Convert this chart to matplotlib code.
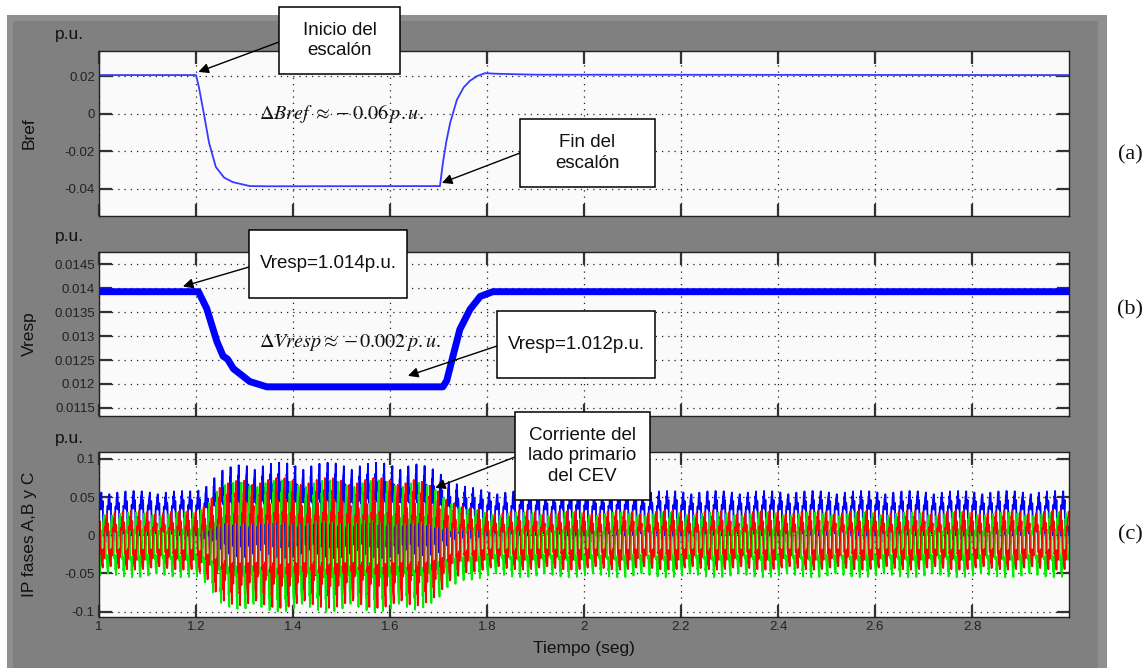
import numpy as np
import matplotlib
matplotlib.use('Agg')
import matplotlib.pyplot as plt
from matplotlib.patches import Rectangle

plt.rcParams['font.family'] = ['Liberation Sans', 'DejaVu Sans']
plt.rcParams['mathtext.fontset'] = 'stix'

W, H = 1148, 668

# --- (a) Bref, p.u. ---
bref_t = [1.0, 1.2, 1.206, 1.216, 1.227, 1.241, 1.258, 1.276, 1.311, 1.35,
          1.703, 1.709, 1.716, 1.724, 1.738, 1.752, 1.765, 1.78, 1.796,
          1.82, 1.9, 3.0]
bref_v = [0.0205, 0.0205, 0.0141, 0.0003, -0.0156, -0.0284, -0.0340,
          -0.0364, -0.0385, -0.0386, -0.0385, -0.0262, -0.0150, -0.0049,
          0.0074, 0.0140, 0.0175, 0.0200, 0.0215, 0.0212, 0.0207, 0.0205]

# --- (b) Vresp, p.u. ---
vresp_t = [1.0, 1.205, 1.222, 1.243, 1.256, 1.265, 1.277, 1.311, 1.346,
           1.709, 1.717, 1.728, 1.744, 1.765, 1.786, 1.812, 3.0]
vresp_v = [0.01393, 0.01393, 0.01358, 0.01289, 0.01258, 0.01252, 0.01232,
           0.01205, 0.01194, 0.01194, 0.01207, 0.01251, 0.01314, 0.01356,
           0.01383, 0.01393, 0.01393]

# --- (c) primary currents: upper / lower envelope of each phase ---
cur_t = [1.0, 1.2, 1.25, 1.3, 1.65, 1.7, 1.75, 1.8, 3.0]
ia_hi = [0.058, 0.058, 0.085, 0.095, 0.095, 0.085, 0.065, 0.058, 0.058]
ia_lo = [-0.012, -0.012, -0.045, -0.055, -0.055, -0.045, -0.02, -0.012, -0.012]
ib_hi = [0.032, 0.032, 0.065, 0.075, 0.075, 0.06, 0.038, 0.032, 0.032]
ib_lo = [-0.045, -0.045, -0.085, -0.095, -0.095, -0.08, -0.05, -0.045, -0.045]
ic_hi = [0.03, 0.03, 0.065, 0.072, 0.072, 0.06, 0.036, 0.03, 0.03]
ic_lo = [-0.055, -0.055, -0.09, -0.1, -0.1, -0.085, -0.06, -0.055, -0.055]
f_sys = 60.0

xticks = [1, 1.2, 1.4, 1.6, 1.8, 2, 2.2, 2.4, 2.6, 2.8]
yt_a = [0.02, 0, -0.02, -0.04]
yt_b = [0.0145, 0.014, 0.0135, 0.013, 0.0125, 0.012, 0.0115]
yt_c = [0.1, 0.05, 0, -0.05, -0.1]

fig = plt.figure(figsize=(W / 100, H / 100), dpi=100)
fig.patch.set_facecolor('white')

# grey simulink-like frame
fig.add_artist(Rectangle((7 / W, 0), 1100 / W, 653 / H, transform=fig.transFigure,
                         facecolor='#8f8f8f', edgecolor='none', zorder=-10))
fig.add_artist(Rectangle((13 / W, 0), 1085 / W, 647 / H, transform=fig.transFigure,
                         facecolor='#808080', edgecolor='none', zorder=-9))


def px_axes(x0, y0, x1, y1):
    return fig.add_axes([x0 / W, 1 - y1 / H, (x1 - x0) / W, (y1 - y0) / H])


ax1 = px_axes(99, 51, 1069, 216)
ax2 = px_axes(99, 252, 1069, 416)
ax3 = px_axes(99, 452, 1069, 617)


def style(ax, yt, ylabels, ylim, label, show_x=False):
    ax.set_facecolor('#fafafa')
    ax.set_xlim(1, 3)
    ax.set_ylim(*ylim)
    ax.set_xticks(xticks)
    ax.set_yticks(yt)
    ax.set_yticklabels(ylabels)
    if show_x:
        ax.set_xticklabels([f'{x:g}' for x in xticks])
    else:
        ax.set_xticklabels([])
    ax.tick_params(direction='in', length=9, width=1.6, color='#333333',
                   top=True, right=True, labelsize=9.5, labelcolor='#222222',
                   pad=3)
    ax.grid(True, color='#222222', linestyle=(0, (1, 4)), linewidth=0.9)
    for s in ax.spines.values():
        s.set_color('#222222')
        s.set_linewidth(1.0)
    ax.set_ylabel(label, fontsize=12.5, color='#111111')
    ax.yaxis.set_label_coords(-0.064, 0.5)


style(ax1, yt_a, ['0.02', '0', '-0.02', '-0.04'], (-0.0544, 0.0333), 'Bref')
style(ax2, yt_b, ['0.0145', '0.014', '0.0135', '0.013', '0.0125', '0.012', '0.0115'],
      (0.01133, 0.01476), 'Vresp')
style(ax3, yt_c, ['0.1', '0.05', '0', '-0.05', '-0.1'], (-0.107, 0.109),
      'IP fases A,B y C', show_x=True)
ax3.set_xlabel('Tiempo (seg)', fontsize=12.5, color='#111111', labelpad=6)

ax1.plot(bref_t, bref_v, color='#3a3aff', lw=1.3)
ax2.plot(vresp_t, vresp_v, color='#0000ff', lw=5.0, solid_joinstyle='round')

# currents: 60 Hz carrier scaled between the read envelopes
t = np.arange(1.0, 3.0, 1 / 1430)
th = 2 * np.pi * f_sys * t
for hi, lo, ph, col in [(ia_hi, ia_lo, 0.0, '#0000ff'),
                        (ic_hi, ic_lo, 2 * np.pi / 3, '#00ee00'),
                        (ib_hi, ib_lo, -2 * np.pi / 3, '#ff0000')]:
    a = th - ph
    shape = (np.sin(a) + 0.3 * np.sin(5 * a) + 0.2 * np.sin(7 * a + 0.5)
             + 0.12 * np.sin(11 * a + 1.0))
    shape = shape / np.abs(shape).max()
    up = np.interp(t, cur_t, hi)
    dn = np.interp(t, cur_t, lo)
    ax3.plot(t, (up + dn) / 2 + (up - dn) / 2 * shape, color=col, lw=1.3)

# p.u. labels
for y in (35, 236, 438):
    fig.text(55 / W, 1 - y / H, 'p.u.', fontsize=12.5, color='#111111',
             ha='left', va='center')

# delta annotations
ax1.text(1.33, 0.0, r'$\Delta Bref\ \approx -0.06\,p.u.$', fontsize=14.5,
         ha='left', va='center', color='#111111')
ax2.text(1.33, 0.01287, r'$\Delta Vresp \approx -0.002\,p.u.$', fontsize=14.5,
         ha='left', va='center', color='#111111')


def callout(x0, y0, x1, y1, text, ax, xy, start):
    fig.add_artist(Rectangle((x0 / W, 1 - y1 / H), (x1 - x0) / W, (y1 - y0) / H,
                             transform=fig.transFigure, facecolor='white',
                             edgecolor='black', lw=1.1, zorder=5))
    fig.text((x0 + x1) / 2 / W, 1 - (y0 + y1) / 2 / H, text, fontsize=13.5,
             ha='center', va='center', linespacing=1.25, zorder=6,
             color='#111111')
    ax.annotate('', xy=xy, xycoords='data',
                xytext=(start[0], H - start[1]), textcoords='figure pixels',
                arrowprops=dict(arrowstyle='-|>', color='black', lw=1.0,
                                shrinkA=0, shrinkB=0, mutation_scale=15),
                annotation_clip=False)


callout(279, 7, 400, 74, 'Inicio del\nescalón', ax1, (1.205, 0.0222), (279, 42))
callout(520, 119, 655, 187, 'Fin del\nescalón', ax1, (1.707, -0.0368), (520, 153))
callout(249, 230, 407, 298, 'Vresp=1.014p.u.', ax2, (1.173, 0.01404), (249, 267))
callout(497, 311, 655, 378, 'Vresp=1.012p.u.', ax2, (1.637, 0.01217), (497, 346))
callout(515, 412, 650, 500, 'Corriente del\nlado primario\ndel CEV', ax3,
        (1.693, 0.062), (515, 457))

for y, lab in ((155, '(a)'), (310, '(b)'), (535, '(c)')):
    fig.text(1130 / W, 1 - y / H, lab, fontsize=16, ha='center', va='center',
             family=['Liberation Serif', 'DejaVu Serif'], color='#111111')

fig.savefig('out.png', dpi=100)
